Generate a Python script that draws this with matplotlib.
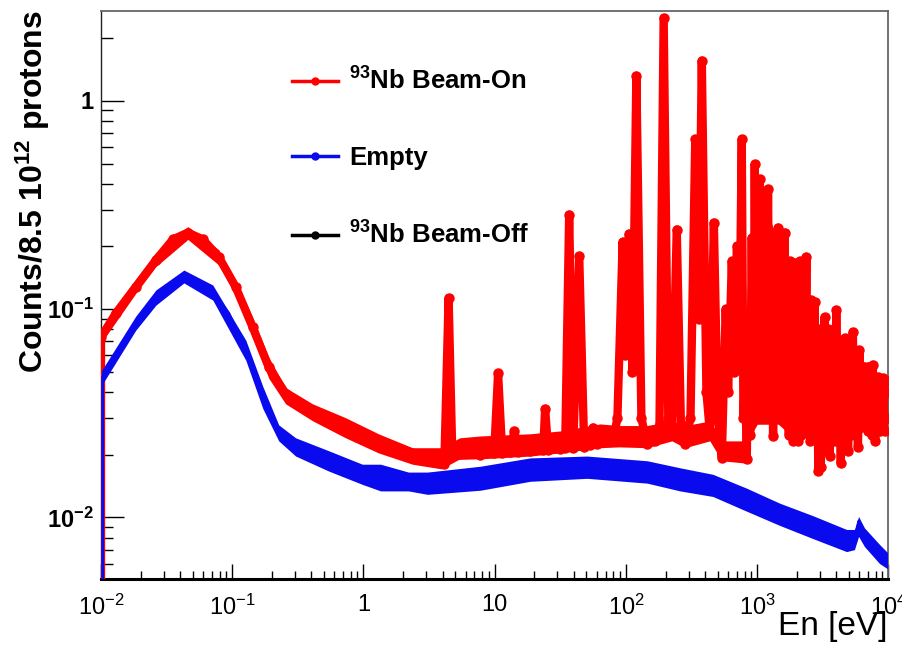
"""Neutron energy spectrum: 93Nb beam-on vs empty, log-log, ROOT-like style."""

import math
import matplotlib
matplotlib.use("Agg")
import matplotlib.pyplot as plt
from matplotlib.lines import Line2D
from matplotlib.ticker import LogLocator, NullFormatter, FuncFormatter

plt.rcParams["font.family"] = ["Liberation Sans", "DejaVu Sans"]
plt.rcParams["mathtext.fontset"] = "custom"
plt.rcParams["mathtext.rm"] = "Liberation Sans"
plt.rcParams["mathtext.bf"] = "Liberation Sans:bold"
plt.rcParams["mathtext.it"] = "Liberation Sans:italic"

RED = "#ff0000"
BLUE = "#0a0aee"

# --- 93Nb beam-on: centre line incl. resonances (first bin is empty) ---
red_E = [0.01, 0.0100, 0.0130, 0.0184, 0.0262, 0.0353, 0.0459, 0.0597, 0.0789,
         0.106, 0.143, 0.190, 0.255, 0.409, 0.730, 1.30, 2.36, 3.66, 4.13,
         4.45, 4.75, 7.76, 9.9, 10.6, 11.4, 13.1, 14.1, 15.1, 18.6, 23.4,
         24.2, 25.5, 31.5, 34.4, 36.9, 39.6, 44.0, 48.0, 53.0, 56.1, 60.1,
         69.2, 79.6, 86.0, 94.3, 99.0, 105.3, 112.0, 119.9, 131.0, 144.5,
         166.0, 180.0, 193.6, 210.0, 224.0, 243.6, 262.0, 281.0, 310.0,
         337.0, 357.0, 378.0, 410.0, 435.0, 467.0, 500.0, 537.0, 575.0,
         600.0, 640.0, 670.0, 700.0, 730.0, 762.0,
         785, 808, 832, 857, 882, 908, 935, 957, 985, 1010, 1030, 1045,
         1065, 1085, 1110, 1140, 1170, 1208, 1245, 1282, 1320, 1358, 1400,
         1439, 1480, 1527, 1570, 1618, 1660, 1700, 1740, 1766, 1800, 1840,
         1885, 1928, 1975, 2020, 2060, 2104, 2160, 2218, 2290, 2366, 2420,
         2480, 2530, 2582, 2650, 2735, 2790, 2850, 2920, 2985, 3050, 3100,
         3180, 3258, 3350, 3452, 3560, 3686, 3780, 3850, 3920, 4000, 4120,
         4238, 4330, 4420, 4520, 4624, 4720, 4800, 4920, 5047, 5200, 5346,
         5500, 5675, 5850, 6010, 6150, 6300, 6430, 6561, 6680, 6800, 6920,
         7040, 7170, 7300, 7450, 7590, 7700, 7800, 7920, 8050, 8170, 8300,
         8420, 8544, 8680, 8800, 8920, 9055, 9180, 9300, 9450, 9600, 9700,
         9800, 9900, 10000]
red_V = [0.0, 0.0733, 0.0957, 0.128, 0.172, 0.216, 0.233, 0.216, 0.178,
         0.128, 0.0819, 0.0525, 0.0393, 0.0325, 0.0269, 0.0233, 0.0204, 0.0191, 0.0181,
         0.113, 0.0197, 0.0200, 0.0204, 0.0491, 0.0204, 0.0205, 0.026, 0.0206, 0.0208, 0.0210,
         0.0332, 0.0211, 0.0213, 0.0215, 0.284, 0.0216, 0.180, 0.0218, 0.0222, 0.027, 0.0225,
         0.0233, 0.0233, 0.030, 0.21, 0.06, 0.23, 0.05, 1.32, 0.03, 0.0225,
         0.0233, 0.028, 2.5, 0.03, 0.026, 0.241, 0.028, 0.0225, 0.03,
         0.655, 0.09, 1.56, 0.04, 0.026, 0.26, 0.03, 0.0193, 0.10,
         0.04, 0.17, 0.05, 0.20, 0.06, 0.655,
         0.03, 0.05, 0.019, 0.08, 0.025, 0.22, 0.03, 0.496, 0.035, 0.30, 0.03, 0.42,
         0.04, 0.33, 0.03, 0.28, 0.035, 0.376, 0.03, 0.20, 0.0247, 0.15, 0.04,
         0.246, 0.03, 0.16, 0.029, 0.233, 0.03, 0.12, 0.025, 0.17, 0.035, 0.10,
         0.0233, 0.167, 0.03, 0.12, 0.0233, 0.17, 0.025, 0.14, 0.03, 0.178, 0.03,
         0.09, 0.0233, 0.11, 0.03, 0.108, 0.025, 0.07, 0.0167, 0.08, 0.0175, 0.07,
         0.025, 0.0914, 0.03, 0.08, 0.0197, 0.07, 0.03, 0.08, 0.03, 0.099, 0.025,
         0.06, 0.0182, 0.05, 0.025, 0.0725, 0.03, 0.05, 0.0209, 0.065, 0.025, 0.0775,
         0.03, 0.05, 0.0218, 0.0634, 0.03, 0.05, 0.029, 0.053, 0.03, 0.05, 0.026,
         0.053, 0.03, 0.045, 0.025, 0.054, 0.03, 0.045, 0.0233, 0.045, 0.03, 0.047,
         0.028, 0.045, 0.026, 0.04, 0.03, 0.0465, 0.03, 0.045, 0.026, 0.045, 0.03,
         0.045, 0.03, 0.04]

# spread of the beam-on continuum (lower / upper edge of the dense band)
red_band_E = [0.0100, 0.0184, 0.0262, 0.0459, 0.0789, 0.106, 0.143, 0.190,
              0.255, 0.409, 0.730, 1.30, 2.36, 3.92, 5.41, 7.76, 18.6, 31.5,
              63.4, 88.5, 144.5, 224.0, 281.0, 435.0, 537.0, 832.0, 900.0,
              1000.0, 1200.0, 1450.0, 1650.0, 1900.0, 2300.0, 2600.0, 3000.0,
              3500.0, 4000.0, 4600.0, 5300.0, 6000.0, 7000.0, 8000.0, 9000.0,
              10000.0]
red_lo = [0.0686, 0.119, 0.160, 0.216, 0.163, 0.117, 0.0733, 0.0465,
          0.0351, 0.0291, 0.0241, 0.0204, 0.0180, 0.0171, 0.0191, 0.0191, 0.0197, 0.0204,
          0.0216, 0.0218, 0.0216, 0.0233, 0.0216, 0.0233, 0.0187, 0.0182, 0.025,
          0.028, 0.028, 0.028, 0.026, 0.025, 0.025, 0.025, 0.021,
          0.022, 0.022, 0.022, 0.024, 0.025, 0.027, 0.027, 0.028,
          0.030]
red_hi = [0.0774, 0.135, 0.187, 0.249, 0.193, 0.138, 0.0915, 0.0586,
          0.0420, 0.0351, 0.0301, 0.0252, 0.0216, 0.0216, 0.0241, 0.0246, 0.0252, 0.0260,
          0.0281, 0.0276, 0.0276, 0.0290, 0.0276, 0.0290, 0.0233, 0.0233, 0.040,
          0.30, 0.30, 0.20, 0.17, 0.13, 0.13, 0.09, 0.075,
          0.07, 0.08, 0.06, 0.065, 0.052, 0.045, 0.043, 0.042,
          0.038]

# --- Empty target: centre line (first bin is empty) ---
blue_E = [0.01, 0.0103, 0.0130, 0.0184, 0.0262, 0.0353, 0.0428, 0.0528, 0.0711,
          0.094, 0.127, 0.171, 0.226, 0.304, 0.542, 0.98, 2.20, 3.07, 7.76,
          18.6, 50.5, 145.0, 258.0, 459.0, 832.0, 1483.0, 2644.0, 4794.0,
          5610.0, 5915.0, 6563.0, 8551.0, 9820.0]
blue_V = [0.0, 0.047, 0.0613, 0.0856, 0.114, 0.135, 0.143, 0.138, 0.121,
          0.0957, 0.0634, 0.0376, 0.026, 0.0216, 0.0187, 0.0163, 0.0146, 0.0141, 0.0149,
          0.0171, 0.0176, 0.0167, 0.0153, 0.0138, 0.0116, 0.0103, 0.00885, 0.00766,
          0.0078, 0.00957, 0.00837, 0.00686, 0.00634]

blue_band_E = [0.0101, 0.0184, 0.0262, 0.0428, 0.0711, 0.127, 0.171, 0.226,
               0.304, 0.542, 0.98, 1.35, 2.20, 3.07, 7.76, 18.6, 50.5, 145.0,
               258.0, 459.0, 832.0, 1483.0, 2644.0, 4794.0, 5500.0, 5915.0,
               6563.0, 8551.0, 9820.0]
blue_lo = [0.0430, 0.0792, 0.1045, 0.1336, 0.1105, 0.0567, 0.0333, 0.0233,
           0.0197, 0.0167, 0.0144, 0.0134, 0.0134, 0.0129, 0.0135, 0.0149, 0.0154, 0.0146,
           0.0134, 0.0126, 0.0107, 0.00915, 0.00792, 0.00685, 0.0070, 0.0081,
           0.00724, 0.0060, 0.00567]
blue_hi = [0.0507, 0.0925, 0.1236, 0.154, 0.1305, 0.0708, 0.0425, 0.0278,
           0.0241, 0.0209, 0.0180, 0.0180, 0.0165, 0.0165, 0.0176, 0.0193, 0.0197, 0.0187,
           0.0173, 0.0161, 0.0138, 0.0117, 0.0102, 0.00875, 0.00875, 0.0101,
           0.0089, 0.00741, 0.00678]

labels = [r"$^{\mathbf{93}}$Nb Beam-On", "Empty", r"$^{\mathbf{93}}$Nb Beam-Off"]
colors = [RED, BLUE, "black"]


def fmt_x(v, pos):
    e = int(round(math.log10(v)))
    if e == 0:
        return "1"
    if e == 1:
        return "10"
    return r"$10^{%d}$" % e


def fmt_y(v, pos):
    e = int(round(math.log10(v)))
    if e == 0:
        return r"$\mathbf{1}$"
    return r"$\mathbf{10^{%d}}$" % e


fig = plt.figure(figsize=(9.03, 6.45), dpi=100)
ax = fig.add_axes([101 / 903, 66 / 645, 787.5 / 903, 568 / 645])
ax.set_xscale("log")
ax.set_yscale("log")

ax.fill_between(red_band_E, red_lo, red_hi, color=RED, lw=0, zorder=2)
ax.plot(red_E, red_V, color=RED, lw=6, marker="o", ms=6.5,
        solid_joinstyle="round", solid_capstyle="round", zorder=3)
ax.fill_between(blue_band_E, blue_lo, blue_hi, color=BLUE, lw=0, zorder=4)
ax.plot(blue_E, blue_V, color=BLUE, lw=2.0, zorder=5)

ax.set_xlim(1e-2, 1e4)
ax.set_ylim(5.06e-3, 2.7)

ax.xaxis.set_major_locator(LogLocator(base=10, numticks=20))
ax.xaxis.set_minor_locator(LogLocator(base=10, subs=range(2, 10), numticks=100))
ax.xaxis.set_major_formatter(FuncFormatter(fmt_x))
ax.xaxis.set_minor_formatter(NullFormatter())
ax.yaxis.set_major_locator(LogLocator(base=10, numticks=20))
ax.yaxis.set_minor_locator(LogLocator(base=10, subs=range(2, 10), numticks=100))
ax.yaxis.set_major_formatter(FuncFormatter(fmt_y))
ax.yaxis.set_minor_formatter(NullFormatter())

ax.tick_params(which="both", direction="in", top=False, right=False, color="black")
ax.tick_params(axis="y", which="major", length=16.5, width=1.0, pad=5, labelsize=17)
ax.tick_params(axis="y", which="minor", length=8.5, width=1.0)
ax.tick_params(axis="x", which="major", length=11, width=1.0, pad=11, labelsize=17)
ax.tick_params(axis="x", which="minor", length=5.5, width=1.0)

ax.spines["bottom"].set_linewidth(2.2)
ax.spines["bottom"].set_color("black")
ax.spines["left"].set_linewidth(1.0)
ax.spines["left"].set_color("#222222")
for s in ("top", "right"):
    ax.spines[s].set_linewidth(1.3)
    ax.spines[s].set_color("#666666")

handles = [Line2D([], [], color=c, lw=2.5, marker="o", ms=5) for c in colors]
ax.legend(handles, labels, loc="upper left", bbox_to_anchor=(0.2425, 0.900),
          frameon=False, borderpad=0, borderaxespad=0, handlelength=1.8,
          handletextpad=0.42, labelspacing=2.0,
          prop={"weight": "bold", "size": 18.5})

fig.text(33 / 903, 1 - 10 / 645, r"Counts/8.5 10$^{\mathbf{12}}$ protons",
         rotation=90, ha="center", va="top", fontsize=23, fontweight="bold")
fig.text(888 / 903, 1 - 626 / 645, "En [eV]", ha="right", va="center", fontsize=24)

fig.savefig("out.png", dpi=100)
